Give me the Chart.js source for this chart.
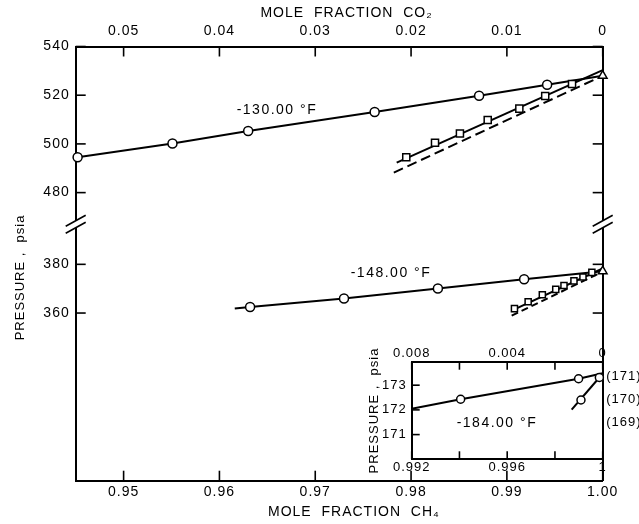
<!DOCTYPE html>
<html><head><meta charset="utf-8">
<script src="https://cdn.jsdelivr.net/npm/chart.js@4.4.1/dist/chart.umd.min.js"></script>
<style>
html,body{margin:0;padding:0;background:#fff;}
#wrap{position:relative;width:639px;height:524px;overflow:hidden;}
#main{position:absolute;left:0;top:0;}
#inset{position:absolute;left:355px;top:340px;}
</style></head><body>
<div id="wrap"><canvas id="main" width="639" height="524"></canvas><canvas id="inset" width="284" height="136"></canvas></div>
<script>
// ---------- tick labels ----------
const ch4Ticks = [0.95, 0.96, 0.97, 0.98, 0.99, 1.00];
const ch4TickLabels = ['0.95', '0.96', '0.97', '0.98', '0.99', '1.00'];
const co2TickLabels = ['0.05', '0.04', '0.03', '0.02', '0.01', '0'];
const upperPTicks = [540, 520, 500, 480];
const lowerPTicks = [380, 360];

const insetXTicks = [0.992, 0.994, 0.996, 0.998, 1.000];
const insetXLabels = ['0.992', '', '0.996', '', '1'];
const insetCo2Labels = ['0.008', '', '0.004', '', '0'];
const insetPTicks = [171, 172, 173];
const insetRightTicks = [169, 170, 171];

// ---------- -130.00 °F ----------
const c130x = [0.9452, 0.9551, 0.9630, 0.9762, 0.9871, 0.9942];
const c130p = [494.5, 500.2, 505.3, 513.1, 519.8, 524.3];
const c130lineX = [0.9452, 0.9551, 0.9630, 0.9762, 0.9871, 0.9942, 1.000];
const c130lineP = [494.5, 500.2, 505.3, 513.1, 519.8, 524.3, 528.0];
const s130x = [0.9795, 0.9825, 0.9851, 0.9880, 0.9913, 0.9940, 0.9968];
const s130p = [494.5, 500.5, 504.3, 509.8, 514.5, 519.7, 524.6];
const fit130x = [0.9785, 1.000];
const fit130p = [492.3, 530.3];
const dash130x = [0.9782, 1.000];
const dash130p = [488.2, 528.0];
const tri130x = [1.000];
const tri130p = [528.0];

// ---------- -148.00 °F ----------
const c148x = [0.9632, 0.9730, 0.9828, 0.9918];
const c148p = [362.5, 366.0, 370.1, 373.9];
const c148lineX = [0.9616, 0.9632, 0.9730, 0.9828, 0.9918, 1.000];
const c148lineP = [361.9, 362.5, 366.0, 370.1, 373.9, 377.2];
const s148x = [0.99079, 0.99222, 0.99370, 0.99510, 0.99596, 0.99700, 0.99794, 0.99887];
const s148p = [361.8, 364.6, 367.5, 369.7, 371.3, 373.2, 374.8, 376.7];
const fit148x = [0.9905, 1.000];
const fit148p = [361.0, 378.3];
const dash148x = [0.9905, 1.000];
const dash148p = [358.9, 377.0];
const tri148x = [1.000];
const tri148p = [377.2];

// ---------- -184.00 °F (inset) ----------
const c184x = [0.99405, 0.99899, 0.99986];
const c184p = [172.43, 173.26, 173.31];
const c184lineX = [0.992, 0.99405, 0.99899, 1.000];
const c184lineP = [172.05, 172.43, 173.26, 173.48];
const b184x = [0.99909];
const b184p = [172.40];
const b184lineX = [0.99870, 0.99986];
const b184lineP = [172.01, 173.31];

// ---------- axis layout constants ----------
const Y_MIN = 361.7, Y_MAX = 540, LOWER_SHIFT = 70.55, BREAK_AT = 467;
const lo = p => p + LOWER_SHIFT;
const pts = (xs, ps, f = v => v) => xs.map((x, i) => ({x: x, y: f(ps[i])}));

Chart.defaults.font.family = "'Liberation Sans', Arial, sans-serif";
Chart.defaults.color = '#000';

const inTicks = {
  id: 'inTicks',
  afterDraw(chart, args, opts) {
    const ctx = chart.ctx, a = chart.chartArea, L = opts.len;
    ctx.save();
    ctx.strokeStyle = '#000'; ctx.lineWidth = opts.width;
    for (const side of opts.sides) {
      const s = chart.scales[side.scale];
      for (const t of s.ticks) {
        const p = s.getPixelForValue(t.value);
        ctx.beginPath();
        if (side.edge === 'bottom') { ctx.moveTo(p, a.bottom); ctx.lineTo(p, a.bottom - L); }
        if (side.edge === 'top') { ctx.moveTo(p, a.top); ctx.lineTo(p, a.top + L); }
        if (side.edge === 'left') { ctx.moveTo(a.left, p); ctx.lineTo(a.left + L, p); }
        if (side.edge === 'right') { ctx.moveTo(a.right, p); ctx.lineTo(a.right - L, p); }
        ctx.stroke();
      }
    }
    ctx.restore();
  }
};
const spacing = {
  id: 'spacing',
  beforeDraw(chart) { chart.ctx.letterSpacing = '1px'; }
};
const textLabels = {
  id: 'textLabels',
  afterDatasetsDraw(chart, args, opts) {
    const ctx = chart.ctx;
    ctx.save();
    ctx.font = opts.font; ctx.fillStyle = '#000';
    ctx.textAlign = 'center'; ctx.textBaseline = 'middle';
    ctx.letterSpacing = opts.spacing;
    for (const l of opts.items) {
      ctx.fillText(l.text, chart.scales.x.getPixelForValue(l.x), chart.scales.y.getPixelForValue(l.y));
    }
    ctx.restore();
  }
};
const breakMarks = {
  id: 'breakMarks',
  afterDraw(chart, args, opts) {
    const ctx = chart.ctx, a = chart.chartArea, y = chart.scales.y.getPixelForValue(opts.at);
    ctx.save();
    for (const x of [a.left, a.right]) {
      ctx.fillStyle = '#fff'; ctx.fillRect(x - 3, y - 3.5, 6, 7);
      ctx.strokeStyle = '#000'; ctx.lineWidth = 1.6;
      for (const d of [-3.5, 3.5]) {
        ctx.beginPath(); ctx.moveTo(x - 10, y + d + 5.5); ctx.lineTo(x + 10, y + d - 5.5); ctx.stroke();
      }
    }
    ctx.restore();
  }
};

const lineDs = (data, dash) => ({data, showLine: true, borderColor: '#000', borderWidth: 2,
  borderDash: dash || [], pointRadius: 0, fill: false, tension: 0, order: 2, clip: false});
const markDs = (data, style, r) => ({data, showLine: false, pointStyle: style, pointRadius: r,
  pointBackgroundColor: '#fff', pointBorderColor: '#000', pointBorderWidth: 1.5, order: 0, clip: false});

const border = {display: true, color: '#000', width: 2};
const noGrid = {display: false, drawTicks: false, drawOnChartArea: false};

new Chart(document.getElementById('main'), {
  type: 'line',
  data: {datasets: [
    lineDs(pts(c130lineX, c130lineP)),
    lineDs(pts(fit130x, fit130p)),
    lineDs(pts(dash130x, dash130p), [10, 5]),
    lineDs(pts(c148lineX, c148lineP, lo)),
    lineDs(pts(fit148x, fit148p, lo)),
    lineDs(pts(dash148x, dash148p, lo), [7, 4]),
    markDs(pts(c130x, c130p), 'circle', 4.5),
    markDs(pts(s130x, s130p), 'rect', 5),
    markDs(pts(tri130x, tri130p), 'triangle', 5),
    markDs(pts(c148x, c148p, lo), 'circle', 4.5),
    markDs(pts(s148x, s148p, lo), 'rect', 4.3),
    markDs(pts(tri148x, tri148p, lo), 'triangle', 5)
  ]},
  options: {
    responsive: false, animation: false, devicePixelRatio: 1,
    layout: {padding: {left: 0, right: 36.3, top: 0, bottom: 0}},
    plugins: {
      legend: {display: false}, tooltip: {enabled: false},
      inTicks: {len: 10, width: 1.6, sides: [
        {scale: 'x', edge: 'bottom'}, {scale: 'x2', edge: 'top'},
        {scale: 'y', edge: 'left'}, {scale: 'y', edge: 'right'}]},
      textLabels: {font: "14px 'Liberation Sans', Arial, sans-serif", spacing: '1.5px', items: [
        {text: '-130.00 °F', x: 0.9660, y: 513.9},
        {text: '-148.00 °F', x: 0.9779, y: lo(376.4)}]},
      breakMarks: {at: BREAK_AT}
    },
    scales: {
      x: {type: 'linear', position: 'bottom', min: 0.945, max: 1.0,
        grid: noGrid, border,
        afterBuildTicks: s => { s.ticks = ch4Ticks.map(v => ({value: v})); },
        afterFit: s => { s.height = 43.3; },
        ticks: {autoSkip: false, maxRotation: 0, padding: 3, font: {size: 14},
          callback: (v, i) => ch4TickLabels[i]},
        title: {display: true, text: '      MOLE  FRACTION  CH₄', font: {size: 14}, padding: {top: 0, bottom: 3}}},
      x2: {type: 'linear', position: 'top', min: 0.945, max: 1.0,
        grid: noGrid, border,
        afterBuildTicks: s => { s.ticks = ch4Ticks.map(v => ({value: v})); },
        afterFit: s => { s.height = 46.5; },
        ticks: {autoSkip: false, maxRotation: 0, padding: 6.5, font: {size: 14},
          callback: (v, i) => co2TickLabels[i]},
        title: {display: true, text: '   MOLE  FRACTION  CO₂', font: {size: 14}, padding: {top: 5, bottom: 0}}},
      y: {type: 'linear', position: 'left', min: Y_MIN, max: Y_MAX,
        grid: noGrid, border,
        afterBuildTicks: s => { s.ticks = upperPTicks.concat(lowerPTicks.map(lo)).map(v => ({value: v})); },
        afterFit: s => { s.width = 75.7; },
        ticks: {autoSkip: false, padding: 6, font: {size: 14},
          callback: v => String(Math.round(v > BREAK_AT ? v : v - LOWER_SHIFT))},
        title: {display: true, text: 'PRESSURE ,  psia      ', font: {size: 13}, padding: {top: 13, bottom: 0}}},
      yR: {type: 'linear', position: 'right', min: Y_MIN, max: Y_MAX,
        grid: noGrid, border, ticks: {display: false},
        afterFit: s => { s.width = 0; }}
    }
  },
  plugins: [spacing, inTicks, textLabels, breakMarks]
});

new Chart(document.getElementById('inset'), {
  type: 'line',
  data: {datasets: [
    lineDs(pts(c184lineX, c184lineP)),
    lineDs(pts(b184lineX, b184lineP)),
    markDs(pts(c184x, c184p), 'circle', 4),
    markDs(pts(b184x, b184p), 'circle', 4)
  ]},
  options: {
    responsive: false, animation: false, devicePixelRatio: 1,
    layout: {padding: 0},
    plugins: {
      legend: {display: false}, tooltip: {enabled: false},
      inTicks: {len: 8, width: 1.6, sides: [
        {scale: 'x', edge: 'bottom'}, {scale: 'x2', edge: 'top'}, {scale: 'y', edge: 'left'}]},
      textLabels: {font: "14px 'Liberation Sans', Arial, sans-serif", spacing: '1.5px', items: [
        {text: '-184.00 °F', x: 0.99557, y: 171.45}]}
    },
    scales: {
      x: {type: 'linear', position: 'bottom', min: 0.992, max: 1.0,
        grid: noGrid, border,
        afterBuildTicks: s => { s.ticks = insetXTicks.map(v => ({value: v})); },
        afterFit: s => { s.height = 16.7; },
        ticks: {autoSkip: false, maxRotation: 0, padding: 0, font: {size: 13},
          callback: (v, i) => insetXLabels[i]}},
      x2: {type: 'linear', position: 'top', min: 0.992, max: 1.0,
        grid: noGrid, border,
        afterBuildTicks: s => { s.ticks = insetXTicks.map(v => ({value: v})); },
        afterFit: s => { s.height = 21.7; },
        ticks: {autoSkip: false, maxRotation: 0, padding: 0, font: {size: 13},
          callback: (v, i) => insetCo2Labels[i]}},
      y: {type: 'linear', position: 'left', min: 170, max: 173.95,
        grid: noGrid, border,
        afterBuildTicks: s => { s.ticks = insetPTicks.map(v => ({value: v})); },
        afterFit: s => { s.width = 56.7; },
        ticks: {autoSkip: false, padding: 5, font: {size: 13}, callback: v => String(v)},
        title: {display: true, text: 'PRESSURE ,  psia', font: {size: 13}, padding: {top: 11.2, bottom: 0}}},
      yR: {type: 'linear', position: 'right', min: 167.43, max: 171.61,
        grid: noGrid, border,
        afterBuildTicks: s => { s.ticks = insetRightTicks.map(v => ({value: v})); },
        afterFit: s => { s.width = 36.3; },
        ticks: {autoSkip: false, padding: 3.5, font: {size: 13}, callback: v => '(' + v + ')'}}
    }
  },
  plugins: [spacing, inTicks, textLabels]
});
</script>
</body></html>
